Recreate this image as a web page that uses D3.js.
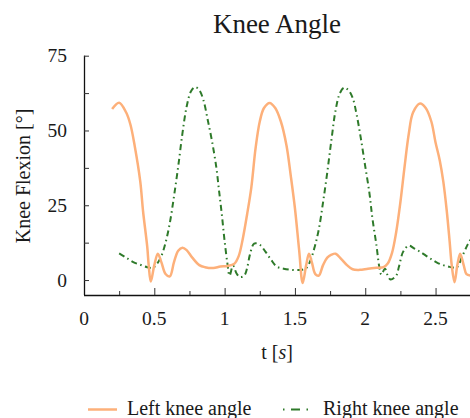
<!DOCTYPE html>
<html>
<head>
<meta charset="utf-8">
<script src="https://cdn.jsdelivr.net/npm/d3@7"></script>
<style>
  html, body { margin: 0; padding: 0; background: #fff; }
  svg { display: block; }
</style>
</head>
<body>
<svg id="chart" width="470" height="418"></svg>
<script>
// Gait cycle knee flexion, time in seconds, angle in degrees
const leftTime = [0.20,0.25,0.30,0.33,0.36,0.40,0.42,0.45,0.46,0.475,0.50,0.525,0.55,0.58,0.61,0.64,0.67,0.70,0.73,0.77,0.82,0.86,0.92,0.97,1.02,1.07,1.10,1.13,1.16,1.19,1.22,1.25,1.28,1.32,1.36,1.40,1.44,1.47,1.50,1.53,1.555,1.58,1.60,1.62,1.645,1.67,1.70,1.73,1.76,1.79,1.83,1.87,1.91,1.96,2.02,2.08,2.13,2.16,2.19,2.22,2.25,2.28,2.31,2.34,2.39,2.43,2.47,2.50,2.53,2.555,2.58,2.60,2.615,2.635,2.655,2.675,2.70,2.72,2.75];
const leftAngle = [57.2,59.3,56,52,45,33,23,11,5,-0.5,5,8.8,6,2,1.2,6,9.8,10.8,10,7.5,5,4.3,4,4.5,4.7,5.5,8,14,22,31,44,53,57.5,59.2,57.5,53,45,35,24,10,-1,5,8.8,6,2,1.5,5,7.5,8.5,8.8,7,5,3.6,3.4,3.8,4.1,4.3,5.5,9,16,26,38,49,56,59,57.5,53,46,40,33,23,13,5,-0.7,5,8.8,5,2,1.5];

const rightTime = [0.25,0.30,0.35,0.40,0.45,0.49,0.52,0.55,0.58,0.61,0.64,0.67,0.70,0.73,0.76,0.79,0.82,0.85,0.88,0.91,0.94,0.96,0.98,1.00,1.02,1.035,1.06,1.085,1.11,1.14,1.16,1.18,1.21,1.25,1.29,1.33,1.37,1.42,1.48,1.54,1.58,1.61,1.64,1.67,1.70,1.73,1.76,1.79,1.82,1.85,1.88,1.91,1.94,1.97,2.00,2.03,2.05,2.08,2.10,2.115,2.14,2.16,2.18,2.22,2.24,2.27,2.31,2.35,2.39,2.45,2.52,2.60,2.65,2.69,2.73,2.76];
const rightAngle = [8.9,7.5,6,5.1,4.3,4.1,5.5,8,12.5,19,28,38,49,58,63,64.5,63.5,60,53.5,46.5,38,30,22,13,5.5,1.5,4.8,2.2,1,1.5,4,8.5,12.2,11.8,9.5,6.8,4.5,3.8,3.4,3.4,4,6.5,11,17,26,36,47,57,62.5,64.3,63.5,61,55,47,38,29,21,11.5,4.4,1.8,3.8,1.5,0.2,1.5,4.5,9.5,11.5,10.5,9.5,7.6,5.6,4.4,4.2,8,12,14.5];

const xTicks = [0, 0.5, 1, 1.5, 2, 2.5];
const xTickLabels = ["0", "0.5", "1", "1.5", "2", "2.5"];
const yTicks = [0, 25, 50, 75];
const yTickLabels = ["0", "25", "50", "75"];
const seriesNames = ["Left knee angle", "Right knee angle"];

const FONT = "Liberation Serif, Times New Roman, serif";
const textColor = "#1a1a1a";

const svg = d3.select("#chart");
const W = 470;

const x = d3.scaleLinear().domain([0, 2.745]).range([84, W]);
const y = d3.scaleLinear().domain([-5, 75]).range([295, 55.7]);

svg.append("defs").append("clipPath").attr("id", "plot-clip")
  .append("rect").attr("x", x(0)).attr("y", y(75) - 10)
  .attr("width", x(2.745) - x(0)).attr("height", y(-5) - y(75) + 10);

// Axes: ticks drawn inward, longer at labelled positions on x
const xAxis = d3.axisBottom(x)
  .tickValues(d3.range(0, 2.76, 0.25))
  .tickSize(-4)
  .tickFormat("");
const gx = svg.append("g").attr("transform", `translate(0,${y(-5)})`).call(xAxis);
gx.selectAll(".tick line").attr("y2", (d) => (Math.abs(d * 2 - Math.round(d * 2)) < 1e-6 ? -7 : -4));

const yAxis = d3.axisLeft(y)
  .tickValues(d3.range(0, 75.1, 12.5))
  .tickSize(-5)
  .tickFormat("");
const gy = svg.append("g").attr("transform", `translate(${x(0)},0)`).call(yAxis);

[gx, gy].forEach((g) => {
  g.select(".domain").attr("stroke", "#111").attr("stroke-width", 1.3);
  g.selectAll(".tick line").attr("stroke", "#333").attr("stroke-width", 1);
});
gy.select(".domain").attr("d", `M0.5,${y(75)}V${y(-5)}`);
gx.select(".domain").attr("d", `M${x(0)},0.5H${W}`);

function label(sel, size) {
  return sel.style("font-family", FONT).style("font-size", size + "px").attr("fill", textColor);
}

// Tick labels
label(svg.append("g").selectAll("text").data(xTicks).join("text")
  .attr("x", (d) => x(d)).attr("y", 325)
  .attr("text-anchor", "middle"), 19.5)
  .text((d, i) => xTickLabels[i]);

label(svg.append("g").selectAll("text").data(yTicks).join("text")
  .attr("x", 67).attr("y", (d) => y(d) + 6.5)
  .attr("text-anchor", "end"), 19.5)
  .text((d, i) => yTickLabels[i]);

// Axis titles
const xt = label(svg.append("text").attr("x", 277).attr("y", 359)
  .attr("text-anchor", "middle"), 20);
xt.append("tspan").text("t [");
xt.append("tspan").style("font-style", "italic").text("s");
xt.append("tspan").text("]");

label(svg.append("text")
  .attr("transform", "translate(30,176) rotate(-90)")
  .attr("text-anchor", "middle"), 20)
  .text("Knee Flexion [°]");

label(svg.append("text").attr("x", 277).attr("y", 33)
  .attr("text-anchor", "middle"), 27)
  .text("Knee Angle");

// Series
const line = d3.line().x((d) => x(d[0])).y((d) => y(d[1])).curve(d3.curveCatmullRom.alpha(0.5));
const plot = svg.append("g").attr("clip-path", "url(#plot-clip)");

const orange = "#fdb07a";
const green = "#2e7a2a";
const dashDot = "6,3.5,1.5,3.5";

plot.append("path")
  .datum(d3.zip(rightTime, rightAngle))
  .attr("fill", "none").attr("stroke", green).attr("stroke-width", 2)
  .attr("stroke-dasharray", dashDot)
  .attr("d", line);

plot.append("path")
  .datum(d3.zip(leftTime, leftAngle))
  .attr("fill", "none").attr("stroke", orange).attr("stroke-width", 2.5)
  .attr("stroke-linejoin", "round")
  .attr("d", line);

// Legend
const legend = svg.append("g");
legend.append("line").attr("x1", 88).attr("x2", 117).attr("y1", 409.5).attr("y2", 409.5)
  .attr("stroke", orange).attr("stroke-width", 2.5);
label(legend.append("text").attr("x", 127).attr("y", 415), 20).text(seriesNames[0]);
legend.append("line").attr("x1", 283).attr("x2", 313).attr("y1", 409.5).attr("y2", 409.5)
  .attr("stroke", green).attr("stroke-width", 2)
  .attr("stroke-dasharray", "1.5,6.5,9,6.5,1.5,10");
label(legend.append("text").attr("x", 323).attr("y", 415), 20).text(seriesNames[1]);
</script>
</body>
</html>
